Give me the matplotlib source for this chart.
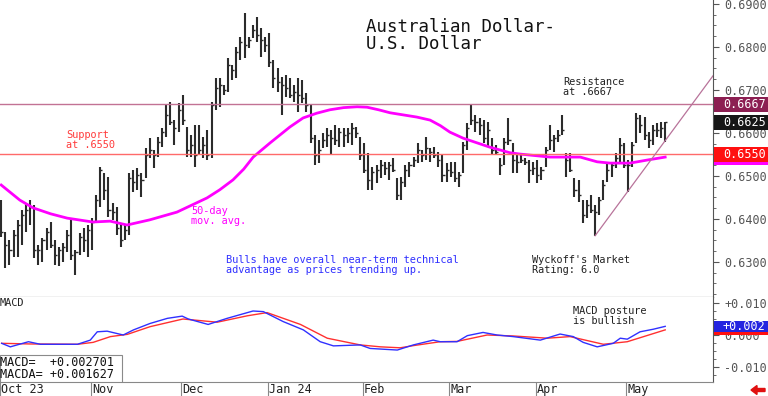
import matplotlib
matplotlib.use("Agg")
import matplotlib.pyplot as plt
import matplotlib.transforms as mtransforms
from matplotlib.patches import Rectangle, FancyArrow
import numpy as np
import pandas as pd

plt.rcParams['font.family'] = ['DejaVu Sans Mono']

# ---- data ----
dates = pd.bdate_range("2023-10-02", "2024-05-14")   # 162 trading days
month_labels = ["Oct 23", "Nov", "Dec", "Jan 24", "Feb", "Mar", "Apr", "May"]

highs = [0.6444, 0.6370, 0.6351, 0.6374, 0.6398, 0.6421, 0.6437, 0.6444, 0.6433, 0.6340,
         0.6356, 0.6379, 0.6393, 0.6351, 0.6335, 0.6344, 0.6374, 0.6402, 0.6328, 0.6367,
         0.6379, 0.6386, 0.6402, 0.6456, 0.6521, 0.6507, 0.6498, 0.6437, 0.6428, 0.6391,
         0.6386, 0.6507, 0.6514, 0.6519, 0.6507, 0.6565, 0.6588, 0.6560, 0.6591, 0.6612,
         0.6665, 0.6672, 0.6630, 0.6670, 0.6688, 0.6614, 0.6595, 0.6619, 0.6619, 0.6591,
         0.6607, 0.6672, 0.6728, 0.6728, 0.6712, 0.6774, 0.6758, 0.6800, 0.6823, 0.6879,
         0.6823, 0.6851, 0.6870, 0.6844, 0.6823, 0.6833, 0.6770, 0.6751, 0.6730, 0.6735,
         0.6728, 0.6712, 0.6728, 0.6723, 0.6693, 0.6665, 0.6595, 0.6584, 0.6600, 0.6612,
         0.6607, 0.6619, 0.6612, 0.6612, 0.6612, 0.6623, 0.6614, 0.6591, 0.6577, 0.6554,
         0.6521, 0.6526, 0.6537, 0.6533, 0.6533, 0.6542, 0.6495, 0.6498, 0.6526, 0.6533,
         0.6544, 0.6577, 0.6560, 0.6591, 0.6565, 0.6567, 0.6556, 0.6549, 0.6530, 0.6533,
         0.6533, 0.6509, 0.6579, 0.6623, 0.6665, 0.6642, 0.6635, 0.6630, 0.6626, 0.6588,
         0.6572, 0.6542, 0.6588, 0.6635, 0.6577, 0.6549, 0.6554, 0.6542, 0.6537, 0.6533,
         0.6537, 0.6521, 0.6567, 0.6619, 0.6595, 0.6607, 0.6642, 0.6554, 0.6554, 0.6495,
         0.6491, 0.6444, 0.6444, 0.6456, 0.6433, 0.6451, 0.6491, 0.6533, 0.6533, 0.6554,
         0.6588, 0.6577, 0.6537, 0.6579, 0.6647, 0.6642, 0.6637, 0.6602, 0.6619, 0.6623,
         0.6626, 0.6626]

lows = [0.6358, 0.6286, 0.6293, 0.6312, 0.6312, 0.6340, 0.6370, 0.6386, 0.6309, 0.6293,
        0.6300, 0.6328, 0.6333, 0.6293, 0.6291, 0.6300, 0.6323, 0.6305, 0.6270, 0.6316,
        0.6323, 0.6312, 0.6328, 0.6393, 0.6428, 0.6444, 0.6405, 0.6398, 0.6363, 0.6335,
        0.6351, 0.6363, 0.6463, 0.6467, 0.6451, 0.6495, 0.6542, 0.6519, 0.6544, 0.6567,
        0.6591, 0.6619, 0.6572, 0.6602, 0.6619, 0.6544, 0.6544, 0.6521, 0.6549, 0.6542,
        0.6537, 0.6542, 0.6654, 0.6661, 0.6688, 0.6695, 0.6723, 0.6728, 0.6770, 0.6774,
        0.6798, 0.6821, 0.6812, 0.6777, 0.6788, 0.6754, 0.6705, 0.6695, 0.6642, 0.6684,
        0.6681, 0.6672, 0.6649, 0.6670, 0.6649, 0.6577, 0.6526, 0.6530, 0.6565, 0.6567,
        0.6549, 0.6572, 0.6567, 0.6567, 0.6577, 0.6572, 0.6588, 0.6537, 0.6507, 0.6467,
        0.6467, 0.6484, 0.6495, 0.6502, 0.6491, 0.6509, 0.6444, 0.6444, 0.6474, 0.6498,
        0.6521, 0.6530, 0.6533, 0.6537, 0.6533, 0.6542, 0.6521, 0.6486, 0.6486, 0.6498,
        0.6486, 0.6474, 0.6507, 0.6560, 0.6619, 0.6602, 0.6595, 0.6577, 0.6567, 0.6549,
        0.6549, 0.6502, 0.6526, 0.6572, 0.6507, 0.6507, 0.6530, 0.6526, 0.6484, 0.6502,
        0.6484, 0.6491, 0.6521, 0.6560, 0.6556, 0.6579, 0.6595, 0.6498, 0.6509, 0.6451,
        0.6440, 0.6391, 0.6402, 0.6414, 0.6361, 0.6409, 0.6444, 0.6486, 0.6498, 0.6519,
        0.6530, 0.6519, 0.6463, 0.6521, 0.6577, 0.6600, 0.6584, 0.6565, 0.6572, 0.6591,
        0.6588, 0.6579]

closes = [0.6370, 0.6340, 0.6328, 0.6363, 0.6386, 0.6409, 0.6421, 0.6428, 0.6328, 0.6328,
          0.6351, 0.6370, 0.6340, 0.6316, 0.6328, 0.6335, 0.6363, 0.6316, 0.6323, 0.6358,
          0.6351, 0.6374, 0.6393, 0.6444, 0.6514, 0.6467, 0.6421, 0.6416, 0.6379, 0.6351,
          0.6374, 0.6495, 0.6486, 0.6502, 0.6491, 0.6549, 0.6560, 0.6549, 0.6579, 0.6602,
          0.6642, 0.6626, 0.6612, 0.6654, 0.6630, 0.6560, 0.6572, 0.6549, 0.6560, 0.6572,
          0.6549, 0.6665, 0.6705, 0.6712, 0.6700, 0.6758, 0.6747, 0.6788, 0.6812, 0.6805,
          0.6816, 0.6840, 0.6828, 0.6816, 0.6805, 0.6765, 0.6728, 0.6719, 0.6712, 0.6705,
          0.6688, 0.6695, 0.6688, 0.6681, 0.6665, 0.6588, 0.6549, 0.6560, 0.6584, 0.6595,
          0.6588, 0.6584, 0.6602, 0.6595, 0.6600, 0.6612, 0.6600, 0.6549, 0.6514, 0.6491,
          0.6509, 0.6514, 0.6526, 0.6519, 0.6526, 0.6514, 0.6456, 0.6486, 0.6514, 0.6526,
          0.6537, 0.6560, 0.6549, 0.6565, 0.6556, 0.6549, 0.6537, 0.6502, 0.6514, 0.6509,
          0.6495, 0.6502, 0.6572, 0.6612, 0.6630, 0.6626, 0.6619, 0.6588, 0.6607, 0.6560,
          0.6556, 0.6526, 0.6579, 0.6584, 0.6537, 0.6533, 0.6537, 0.6533, 0.6514, 0.6519,
          0.6502, 0.6514, 0.6560, 0.6584, 0.6588, 0.6595, 0.6607, 0.6537, 0.6514, 0.6467,
          0.6456, 0.6409, 0.6433, 0.6421, 0.6416, 0.6444, 0.6479, 0.6514, 0.6526, 0.6542,
          0.6572, 0.6526, 0.6526, 0.6572, 0.6635, 0.6619, 0.6595, 0.6584, 0.6607, 0.6607,
          0.6612, 0.6625]

# 50-day moving average, read at sample bars
ma_idx = [0, 4.5, 7.7, 12, 16, 22.2, 26.4, 30.5, 36, 42.6, 49.9, 53, 56.2, 58.8, 61.1, 65.2,
          70, 73.2, 76.5, 79.7, 83, 86.3, 88.7, 91.5, 94.3, 100.8, 104, 106.5, 108.8, 112,
          115.4, 118.5, 123.4, 125.8, 133.1, 140.4, 144.5, 147.6, 152.5, 156.6, 161]
ma_val = [0.6479, 0.6444, 0.6426, 0.6412, 0.6402, 0.6393, 0.6395, 0.6386, 0.6398, 0.6416,
          0.6449, 0.6468, 0.6491, 0.6516, 0.6544, 0.6577, 0.6614, 0.6635, 0.6646, 0.6654,
          0.6659, 0.6661, 0.6660, 0.6654, 0.6647, 0.6637, 0.6630, 0.6617, 0.6602, 0.6588,
          0.6577, 0.6567, 0.6554, 0.6551, 0.6544, 0.6544, 0.6533, 0.6530, 0.6530, 0.6537,
          0.6544]

resistance = 0.6667
support = 0.6550
trend_from = 144          # bar whose low anchors the up trendline
trend_to = (172.6, 0.6733)

# MACD panel
macd_idx = [0, 2.1, 6.5, 9.4, 18.4, 21.5, 23.2, 25.6, 29.5, 32, 36, 40.2, 43.8, 45.3, 50.1,
            54.7, 61, 63.5, 68.3, 73.2, 77.3, 80.5, 87, 89.4, 96, 99.9, 104.7, 106.4, 110.5,
            113, 116.8, 120.2, 124.1, 130.7, 135.5, 138.7, 141.1, 144.5, 148.4, 150.1,
            151.8, 154.9, 158.1, 161]
macd_val = [-0.0026, -0.0037, -0.0021, -0.0029, -0.0029, -0.0016, 0.0010, 0.0012, 0.0000,
            0.0016, 0.0036, 0.0052, 0.0059, 0.0050, 0.0033, 0.0052, 0.0075, 0.0073, 0.0042,
            0.0016, -0.0021, -0.0034, -0.0031, -0.0042, -0.0047, -0.0031, -0.0016, -0.0021,
            -0.0021, -0.0002, 0.0008, 0.0000, -0.0005, -0.0016, 0.0003, -0.0005, -0.0023,
            -0.0037, -0.0026, -0.0010, -0.0013, 0.0010, 0.0018, 0.0027]
sig_idx = [0, 7, 18.4, 22.2, 26.4, 30.5, 36, 44, 52.3, 59.6, 64.4, 72.5, 79, 87, 91.9,
           96.7, 100, 106.4, 110.5, 117.8, 124.1, 132.4, 137.9, 146, 151.8, 161]
sig_val = [-0.0026, -0.0028, -0.0029, -0.0023, -0.0005, 0.0002, 0.0026, 0.0050, 0.0040,
           0.0060, 0.0070, 0.0033, -0.0010, -0.0031, -0.0037, -0.0040, -0.0033, -0.0021,
           -0.0020, 0.0000, -0.0003, -0.0010, -0.0005, -0.0029, -0.0021, 0.0016]
macd_last = 0.002701
macda_last = 0.001627
macd_tag = "+0.002"

# ---- figure ----
W, H = 768, 396
fig = plt.figure(figsize=(W / 100, H / 100), dpi=100)


def box(l, t, r, b):
    return [l / W, 1 - b / H, (r - l) / W, (b - t) / H]


ax = fig.add_axes(box(0, 0, 713, 297))
axm = fig.add_axes(box(0, 297, 713, 382))

x = np.arange(len(dates))
bar_col = '#2b2b2b'
ax.vlines(x, lows, highs, color=bar_col, lw=1.5)
ax.hlines(closes, x, x + 0.5, color=bar_col, lw=1.0)
ax.plot(ma_idx, ma_val, color='#ff00ff', lw=2)
ax.axhline(resistance, color='#c27294', lw=1)
ax.axhline(support, color='#ff6a6a', lw=1)
ax.plot([trend_from, trend_to[0]], [lows[trend_from], trend_to[1]], color='#b8739a', lw=0.9,
        clip_on=False)

ax.set_xlim(-0.3, 172.6)
ax.set_ylim(0.62186, 0.69093)
ax.set_xticks([])
ax.yaxis.tick_right()
yt = [0.63, 0.64, 0.65, 0.66, 0.67, 0.68, 0.69]
ax.set_yticks(yt)
ax.set_yticklabels([f"{v:.4f}" for v in yt])
ax.set_yticks(np.arange(0.6225, 0.6910, 0.0025), minor=True)
ax.tick_params(axis='y', which='major', length=4, width=0.8, pad=4, labelsize=8.5,
               labelcolor='#555555', color='#555555')
ax.tick_params(axis='y', which='minor', length=2, width=0.6, color='#555555')
for s in ['top', 'left']:
    ax.spines[s].set_visible(False)
ax.spines['bottom'].set_color('black')
ax.spines['right'].set_color('#555555')

# value boxes on the price scale
blend = mtransforms.blended_transform_factory(ax.transAxes, ax.transData)
hh = 7.5 / 4300


def value_box(a, tr, val, half, fc, label):
    a.add_patch(Rectangle((1.0015, val - half), 0.077, 2 * half, transform=tr, fc=fc,
                          ec='none', clip_on=False, zorder=5))
    if label:
        a.text(1.044, val, label, transform=tr, ha='center', va='center', color='white',
               fontsize=8.5, clip_on=False, zorder=6)


value_box(ax, blend, ma_val[-1], hh, '#ff00ff', None)
value_box(ax, blend, support, hh, '#ff1010', f"{support:.4f}")
value_box(ax, blend, resistance, hh, '#8c1f52', f"{resistance:.4f}")
value_box(ax, blend, closes[-1], hh, '#161616', f"{closes[-1]:.4f}")

# MACD panel
axm.plot(sig_idx, sig_val, color='#ff3030', lw=1)
axm.plot(macd_idx, macd_val, color='#3030ff', lw=1)
axm.set_xlim(-0.3, 172.6)
axm.set_ylim(-0.0146875, 0.011875)
mt = [-0.01, 0.0, 0.01]
axm.yaxis.tick_right()
axm.set_yticks(mt)
axm.set_yticklabels(["-0.010", "0.000", "+0.010"])
axm.set_yticks(np.arange(-0.0125, 0.0120, 0.0025), minor=True)
axm.tick_params(axis='y', which='major', length=4, width=0.8, pad=4, labelsize=8.5,
                labelcolor='#555555', color='#555555')
axm.tick_params(axis='y', which='minor', length=2, width=0.6, color='#555555')
for s in ['top', 'left']:
    axm.spines[s].set_visible(False)
axm.spines['bottom'].set_color('#888888')
axm.spines['right'].set_color('#555555')

month_pos = [0] + [i for i in range(1, len(dates)) if dates[i].month != dates[i - 1].month]
axm.set_xticks([p - 0.4 for p in month_pos])
axm.set_xticklabels([])
axm.tick_params(axis='x', length=10, width=0.8, color='#888888', direction='out')
tb = mtransforms.blended_transform_factory(axm.transData, axm.transAxes)
for p, lab in zip(month_pos, month_labels):
    axm.text(p - 0.1, -0.085, lab, transform=tb, ha='left', va='center', fontsize=8.5,
             color='#222222', clip_on=False)

blendm = mtransforms.blended_transform_factory(axm.transAxes, axm.transData)
hm = 5.5 / 3200
value_box(axm, blendm, macda_last, hm, '#ff1010', None)
value_box(axm, blendm, macd_last, hm, '#2424e0', macd_tag)

# MACD readout box
axm.add_patch(Rectangle((0, 0), 122 / 713, 27 / 85, transform=axm.transAxes, fc='white',
                        ec='#8a8a8a', lw=0.8, zorder=4))
axm.text(0, 20 / 85, f"MACD=  {macd_last:+.6f}", transform=axm.transAxes, fontsize=8.5,
         va='center', ha='left', color='#111111', zorder=5)
axm.text(0, 8 / 85, f"MACDA= {macda_last:+.6f}", transform=axm.transAxes, fontsize=8.5,
         va='center', ha='left', color='#111111', zorder=5)


def ftext(px, py, s, size, color, ls=1.0):
    fig.text(px / W, 1 - py / H, s, fontsize=size, color=color, ha='left', va='top',
             linespacing=ls)


ftext(366, 18, "Australian Dollar-\nU.S. Dollar", 12.5, '#111111', 0.95)
ftext(563, 77, "Resistance\nat .6667", 7.4, '#222222')
ftext(66, 130, "Support\nat .6550", 7.4, '#ff3b3b')
ftext(191, 206, "50-day\nmov. avg.", 7.4, '#ff00ff')
ftext(226, 255, "Bulls have overall near-term technical\nadvantage as prices trending up.",
      7.4, '#3030ff')
ftext(532, 255, "Wyckoff's Market\nRating: 6.0", 7.4, '#222222')
ftext(0, 298, "MACD", 7.4, '#222222')
ftext(573, 306, "MACD posture\nis bullish", 7.4, '#222222')

fig.add_artist(FancyArrow(765 / W, 1 - 390 / H, -8 / W, 0, width=3 / H, head_width=9 / H,
                          head_length=6 / W, length_includes_head=False,
                          transform=fig.transFigure, color='#e01010'))

fig.savefig("out.png", dpi=100)
